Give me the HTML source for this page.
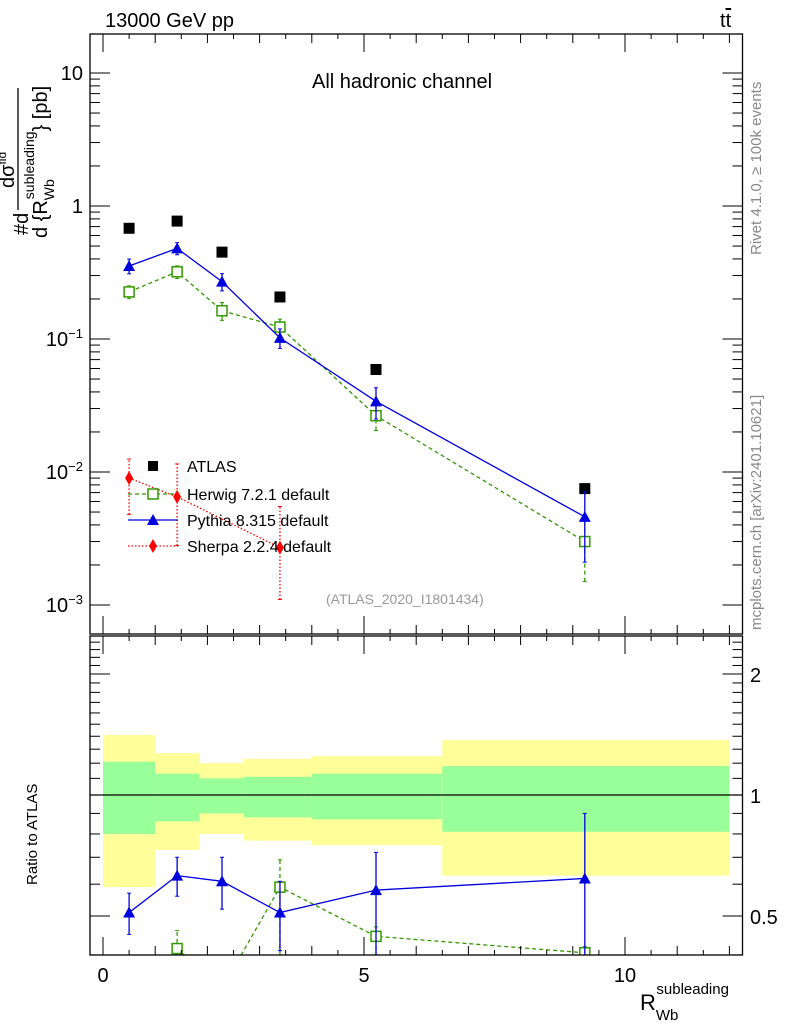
<!DOCTYPE html>
<html><head><meta charset="utf-8"><style>
body{margin:0;background:#fff;}
svg text{font-family:"Liberation Sans",sans-serif;}
</style></head><body>
<svg id="c" width="786" height="1024" xmlns="http://www.w3.org/2000/svg"></svg>
<script>
const binEdges=[0,1,1.85,2.7,4,6.5,12];
const xCenters=[0.5,1.42,2.28,3.39,5.23,9.23];
const atlas=[0.68,0.77,0.45,0.207,0.059,0.0075];
const pythia=[0.354,0.48,0.27,0.102,0.034,0.0046];
const pythiaErr=[0.045,0.05,0.04,0.017,0.009,0.0025];
const herwig=[0.226,0.32,0.163,0.123,0.0265,0.003];
const herwigErr=[0.025,0.035,0.025,0.018,0.006,0.0015];
const sherpaX=[0.5,1.42,3.39];
const sherpa=[0.009,0.0065,0.0027];
const sherpaLo=[0.0048,0.0028,0.0011];
const sherpaHi=[0.0125,0.0115,0.0055];
const yellowHi=[1.41,1.27,1.20,1.23,1.25,1.37];
const yellowLo=[0.59,0.73,0.80,0.77,0.75,0.63];
const greenHi=[1.21,1.13,1.10,1.11,1.13,1.18];
const greenLo=[0.80,0.86,0.90,0.88,0.87,0.81];
const rPythia=[0.51,0.63,0.61,0.51,0.58,0.62];
const rPythiaLo=[0.45,0.56,0.52,0.41,0.39,0.39];
const rPythiaHi=[0.57,0.70,0.70,0.61,0.72,0.90];
const rHerwig=[0.33,0.415,0.33,0.59,0.445,0.405];
const rHerwigLo=[0.30,0.38,0.30,0.40,0.38,0.38];
const rHerwigHi=[0.36,0.46,0.36,0.69,0.47,0.42];
const xTicks=[0,5,10];
const yMainTicks=[10,1,0.1,0.01,0.001];
const yMainLabels=["10","1","10<tspan dy='-8' font-size='13'>−1</tspan>","10<tspan dy='-8' font-size='13'>−2</tspan>","10<tspan dy='-8' font-size='13'>−3</tspan>"];
const yRatioTicks=[2,1,0.5];
const yRatioLabels=["2","1","0.5"];

const NS="http://www.w3.org/2000/svg";
const svg=document.getElementById('c');
const L=90,R=742.5,T=34,MB=634,RT=636,RB=955;
const X=v=>103+52.2*v;
const Y=v=>206-133*Math.log10(v);
const YR=v=>795-402*Math.log10(v);
function mk(tag,attrs,parent){const e=document.createElementNS(NS,tag);for(const k in attrs)e.setAttribute(k,attrs[k]);(parent||svg).appendChild(e);return e;}
function txt(s,x,y,size,attrs){const e=mk('text',Object.assign({x:x,y:y,'font-size':size},attrs||{}));e.innerHTML=s;return e;}
const clipDefs=mk('defs',{});
const cp1=mk('clipPath',{id:'cm'},clipDefs);mk('rect',{x:L,y:T,width:R-L,height:MB-T},cp1);
const cp2=mk('clipPath',{id:'cr'},clipDefs);mk('rect',{x:L,y:RT,width:R-L,height:RB-RT},cp2);

const gR=mk('g',{'clip-path':'url(#cr)'});
for(let i=0;i<xCenters.length;i++){
 const b=mk('rect',{x:X(binEdges[i]),y:YR(yellowHi[i]),width:X(binEdges[i+1])-X(binEdges[i]),height:YR(yellowLo[i])-YR(yellowHi[i]),fill:'#ffff99'},gR);
 
 
 const g=mk('rect',{x:X(binEdges[i]),y:YR(greenHi[i]),width:X(binEdges[i+1])-X(binEdges[i]),height:YR(greenLo[i])-YR(greenHi[i]),fill:'#99ff99'},gR);
 
 
}
mk('line',{x1:L,x2:R,y1:YR(1),y2:YR(1),stroke:'#000','stroke-width':1.3},gR);

function series(g,xs,ys,yf,color,dash,marker,lo,hi,name){
 let d='';xs.forEach((x,i)=>{d+=(i?'L':'M')+X(x)+' '+yf(ys[i]);});
 const p=mk('path',{d:d,fill:'none',stroke:color,'stroke-width':1.3,'stroke-dasharray':dash},g);
 
 
 xs.forEach((x,i)=>{
  const cx=X(x),cy=yf(ys[i]);
  if(lo){const e=mk('line',{x1:cx,x2:cx,y1:yf(lo[i]),y2:yf(hi[i]),stroke:color,'stroke-width':1.3,'stroke-dasharray':dash},g);
   
   mk('line',{x1:cx-2,x2:cx+2,y1:yf(lo[i]),y2:yf(lo[i]),stroke:color},g);mk('line',{x1:cx-2,x2:cx+2,y1:yf(hi[i]),y2:yf(hi[i]),stroke:color},g);}
  let m;
  if(marker==='tri')m=mk('path',{d:`M${cx} ${cy-6}L${cx+6} ${cy+5}L${cx-6} ${cy+5}Z`,fill:color},g);
  else if(marker==='sq')m=mk('rect',{x:cx-5,y:cy-5,width:10,height:10,fill:'#fff',stroke:color,'stroke-width':1.5},g);
  else if(marker==='dia')m=mk('path',{d:`M${cx} ${cy-7}L${cx+4} ${cy}L${cx} ${cy+7}L${cx-4} ${cy}Z`,fill:color},g);
  
  
 });
}
series(gR,xCenters,rHerwig,YR,'#339900','4,3','sq',rHerwigLo,rHerwigHi,'ratio-herwig');
series(gR,xCenters,rPythia,YR,'#0000dd','','tri',rPythiaLo,rPythiaHi,'ratio-pythia');

const gM=mk('g',{'clip-path':'url(#cm)'});
atlas.forEach((v,i)=>{const r=mk('rect',{x:X(xCenters[i])-5.5,y:Y(v)-5.5,width:11,height:11,fill:'#000'},gM);
 
 });
series(gM,xCenters,herwig,Y,'#339900','4,3','sq',herwig.map((v,i)=>v-herwigErr[i]),herwig.map((v,i)=>v+herwigErr[i]),'herwig');
series(gM,xCenters,pythia,Y,'#0000dd','','tri',pythia.map((v,i)=>v-pythiaErr[i]),pythia.map((v,i)=>v+pythiaErr[i]),'pythia');

const lg=mk('g',{});
const ly=[466,494,520,546];
mk('rect',{x:148,y:ly[0]-5,width:10,height:10,fill:'#000'},lg);
mk('line',{x1:128,x2:178,y1:ly[1],y2:ly[1],stroke:'#339900','stroke-dasharray':'4,3','stroke-width':1.3},lg);
mk('rect',{x:148,y:ly[1]-5,width:10,height:10,fill:'#fff',stroke:'#339900','stroke-width':1.5},lg);
mk('line',{x1:128,x2:178,y1:ly[2],y2:ly[2],stroke:'#0000dd','stroke-width':1.3},lg);
mk('path',{d:`M153 ${ly[2]-6}L159 ${ly[2]+5}L147 ${ly[2]+5}Z`,fill:'#0000dd'},lg);
mk('line',{x1:128,x2:178,y1:ly[3],y2:ly[3],stroke:'#ff0000','stroke-dasharray':'1.5,2','stroke-width':1.3},lg);
mk('path',{d:`M153 ${ly[3]-7}L157 ${ly[3]}L153 ${ly[3]+7}L149 ${ly[3]}Z`,fill:'#ff0000'},lg);
["ATLAS","Herwig 7.2.1 default","Pythia 8.315 default","Sherpa 2.2.4 default"].forEach((s,i)=>txt(s,187,ly[i]+6,16,{}));
series(gM,sherpaX,sherpa,Y,'#ff0000','1.5,2','dia',sherpaLo,sherpaHi,'sherpa');

function frame(top,bot,name){mk('rect',{x:L,y:top,width:R-L,height:bot-top,fill:'none',stroke:'#000','stroke-width':1.3});}
frame(T,MB,'main-panel-frame');frame(RT,RB,'ratio-panel-frame');
for(let v=0;v<=12;v+=1){const big=v%5===0;
 [[T,1],[MB,-1],[RT,1],[RB,-1]].forEach(([y0,s])=>mk('line',{x1:X(v),x2:X(v),y1:y0,y2:y0+s*(big?18:9),stroke:'#000'}));
 if(v<12){const hv=v+0.5;[[T,1],[MB,-1],[RT,1],[RB,-1]].forEach(([y0,s])=>mk('line',{x1:X(hv),x2:X(hv),y1:y0,y2:y0+s*5,stroke:'#000'}));}}
xTicks.forEach(v=>txt(String(v),X(v),982,20,{'text-anchor':'middle',}));
for(let e=-3;e<=1;e++)for(let m=1;m<10;m++){const v=m*Math.pow(10,e),y=Y(v);if(y<T||y>MB)continue;const len=m===1?20:10;
 mk('line',{x1:L,x2:L+len,y1:y,y2:y,stroke:'#000'});mk('line',{x1:R,x2:R-len,y1:y,y2:y,stroke:'#000'});}
yMainTicks.forEach((v,i)=>txt(yMainLabels[i],83,Y(v)+7,20,{'text-anchor':'end',}));
for(let v=0.4;v<=2.51;v+=0.1){const y=YR(v);if(y<RT||y>RB)continue;const big=Math.abs(v-1)<0.01||Math.abs(v-2)<0.01||Math.abs(v-0.5)<0.01;const len=big?20:10;
 mk('line',{x1:L,x2:L+len,y1:y,y2:y,stroke:'#000'});mk('line',{x1:R,x2:R-len,y1:y,y2:y,stroke:'#000'});}
yRatioTicks.forEach((v,i)=>txt(yRatioLabels[i],750,YR(v)+8,20,{}));

txt("13000 GeV pp",105,27,20,{});
txt("t<tspan text-decoration='overline'>t</tspan>",720,27,20,{});
txt("All hadronic channel",312,88,20,{});
txt("(ATLAS_2020_I1801434)",326,604,14,{fill:'#999',});
txt("Rivet 4.1.0, ≥ 100k events",0,0,15,{fill:'#888',transform:'translate(761,255) rotate(-90)',});
txt("mcplots.cern.ch [arXiv:2401.10621]",0,0,15,{fill:'#888',transform:'translate(761,630) rotate(-90)',});
txt("Ratio to ATLAS",0,0,15,{transform:'translate(37,885) rotate(-90)',});
txt("R<tspan dy='10' font-size='15'>Wb</tspan><tspan dx='-22' dy='-26' font-size='15'>subleading</tspan>",640,1010,22,{});
const yt=mk('g',{});
txt("#d",0,0,20,{transform:'translate(28,235) rotate(-90)'});
txt("dσ<tspan dy='-8' font-size='12'>fid</tspan>",0,0,20,{transform:'translate(14,188) rotate(-90)'});
mk('line',{x1:18,x2:18,y1:210,y2:88,stroke:'#000','stroke-width':1.3});
txt("d {R<tspan dy='7' font-size='14'>Wb</tspan><tspan dx='-20' dy='-20' font-size='14'>subleading</tspan><tspan dy='13'>} [pb]</tspan>",0,0,20,{transform:'translate(47,238) rotate(-90)'});
</script>
</body></html>
